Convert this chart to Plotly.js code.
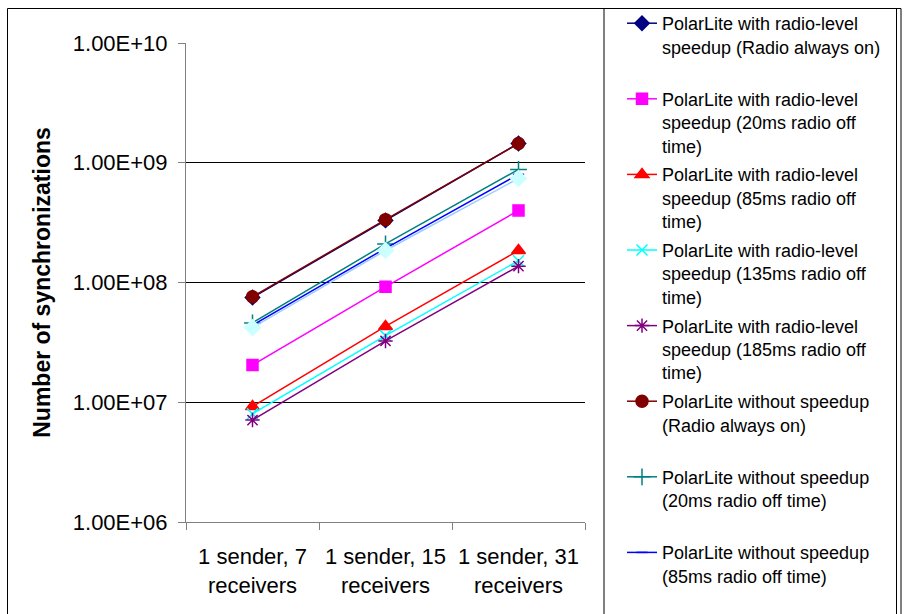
<!DOCTYPE html>
<html>
<head>
<meta charset="utf-8">
<script src="https://cdn.plot.ly/plotly-3.0.1.min.js"></script>
<style>html,body{margin:0;padding:0;background:#fff;}#chart{width:904px;height:614px;}</style>
</head>
<body>
<div id="chart"></div>
<script>
// ---- data ----
var categories = ["1 sender, 7<br>receivers", "1 sender, 15<br>receivers", "1 sender, 31<br>receivers"];
var seriesNames = [
  "PolarLite with radio-level<br>speedup (Radio always on)<br>&nbsp;",
  "PolarLite with radio-level<br>speedup (20ms radio off<br>time)",
  "PolarLite with radio-level<br>speedup (85ms radio off<br>time)",
  "PolarLite with radio-level<br>speedup (135ms radio off<br>time)",
  "PolarLite with radio-level<br>speedup (185ms radio off<br>time)",
  "PolarLite without speedup<br>(Radio always on)<br>&nbsp;",
  "PolarLite without speedup<br>(20ms radio off time)<br>&nbsp;",
  "PolarLite without speedup<br>(85ms radio off time)<br>&nbsp;",
  "PolarLite without speedup<br>(135ms radio off time)"
];
var radioAlwaysOn   = [7.5e7, 3.3e8, 1.45e9];
var radio20ms       = [2.05e7, 9.2e7, 4.0e8];
var radio85ms       = [9.2e6, 4.3e7, 1.85e8];
var radio135ms      = [8.0e6, 3.6e7, 1.52e8];
var radio185ms      = [7.1e6, 3.25e7, 1.37e8];
var noSpeedupOn     = [7.6e7, 3.35e8, 1.45e9];
var noSpeedup20ms   = [4.6e7, 2.1e8, 8.8e8];
var noSpeedup85ms   = [4.4e7, 1.93e8, 8.0e8];
var noSpeedup135ms  = [4.2e7, 1.85e8, 7.4e8];
var yTickVals = [1e6, 1e7, 1e8, 1e9, 1e10];
var yTickText = ["1.00E+06", "1.00E+07", "1.00E+08", "1.00E+09", "1.00E+10"];

// ---- styles ----
var styles = [
  {c:'#000080', s:'diamond', z:11, lc:'#000080'},
  {c:'#FF00FF', s:'square', z:11, lc:'#FF00FF'},
  {c:'#FF0000', s:'triangle-up', z:12, lc:'#FF0000'},
  {c:'#00FFFF', s:'x-thin-open', z:11, lc:'#00FFFF'},
  {c:'#800080', s:'asterisk-open', z:12, lc:'#800080'},
  {c:'#800000', s:'circle', z:12, lc:'#800000'},
  {c:'#008080', s:'cross-thin-open', z:12, lc:'#008080'},
  {c:'#0000FF', s:'line-ew-open', z:8, lc:'#0000FF'},
  {c:'#CCFFFF', s:'diamond', z:12, lc:'#99CCFF'}
];
var values = [radioAlwaysOn, radio20ms, radio85ms, radio135ms, radio185ms,
              noSpeedupOn, noSpeedup20ms, noSpeedup85ms, noSpeedup135ms];

var traces = values.map(function(v, i){
  var st = styles[i];
  return {
    x: categories, y: v, type: 'scatter', mode: 'lines+markers',
    name: seriesNames[i],
    legendgroup: 'g' + i,
    showlegend: i < 8,
    line: {color: st.lc, width: 1.5},
    marker: {symbol: st.s, size: st.z, color: st.c, line: {color: st.c, width: 1.5}}
  };
});

// pixel -> paper helpers (plot area 186..585 x, 43..522 y)
var L = 186, R = 585, T = 43, B = 522;
function px(x){ return (x - L) / (R - L); }
function py(y){ return (B - y) / (B - T); }

var layout = {
  width: 904, height: 614,
  margin: {l: L, r: 904 - R, t: T, b: 614 - B, pad: 0, autoexpand: false},
  paper_bgcolor: '#fff', plot_bgcolor: '#fff',
  font: {family: 'Liberation Sans, Arial, sans-serif', color: '#000'},
  showlegend: true,
  xaxis: {
    type: 'category', range: [-0.5, 2.5], tickson: 'boundaries',
    ticks: 'outside', ticklen: 7, tickcolor: '#808080',
    showline: true, linecolor: '#808080', linewidth: 1,
    showgrid: false, zeroline: false, automargin: false,
    tickfont: {size: 22, family: 'Liberation Sans, Arial, sans-serif', color: '#000'},
    ticklabelstandoff: 15
  },
  yaxis: {
    type: 'log', range: [6, 10],
    tickvals: yTickVals, ticktext: yTickText,
    ticks: 'outside', ticklen: 7, tickcolor: '#808080',
    showline: true, linecolor: '#808080', linewidth: 1,
    showgrid: true, gridcolor: '#000', gridwidth: 1, zeroline: false, automargin: false,
    tickfont: {size: 22, family: 'Liberation Sans, Arial, sans-serif', color: '#000'},
    ticklabelstandoff: 6,
    title: {text: 'Number of synchronizations', font: {size: 23, family: 'Liberation Sans, Arial, sans-serif', weight: 'bold', color: '#000'}, standoff: 15}
  },
  legend: {
    x: px(622), xanchor: 'left', y: py(5), yanchor: 'top',
    bgcolor: 'rgba(0,0,0,0)', borderwidth: 0,
    font: {size: 18, family: 'Liberation Sans, Arial, sans-serif', color: '#000'},
    valign: 'top', tracegroupgap: 2.4, maxheight: 2000
  },
  shapes: [
    {type: 'rect', xref: 'paper', yref: 'paper', x0: px(7.5), x1: px(901), y0: py(630), y1: py(8.5), line: {color: '#000', width: 1}, fillcolor: 'rgba(0,0,0,0)', layer: 'below'},
    {type: 'rect', xref: 'paper', yref: 'paper', x0: px(604), x1: px(896.5), y0: py(630), y1: py(8.5), line: {color: '#000', width: 1}, fillcolor: 'rgba(0,0,0,0)', layer: 'below'}
  ]
};

Plotly.newPlot('chart', traces, layout, {displayModeBar: false, staticPlot: true});
</script>
</body>
</html>
